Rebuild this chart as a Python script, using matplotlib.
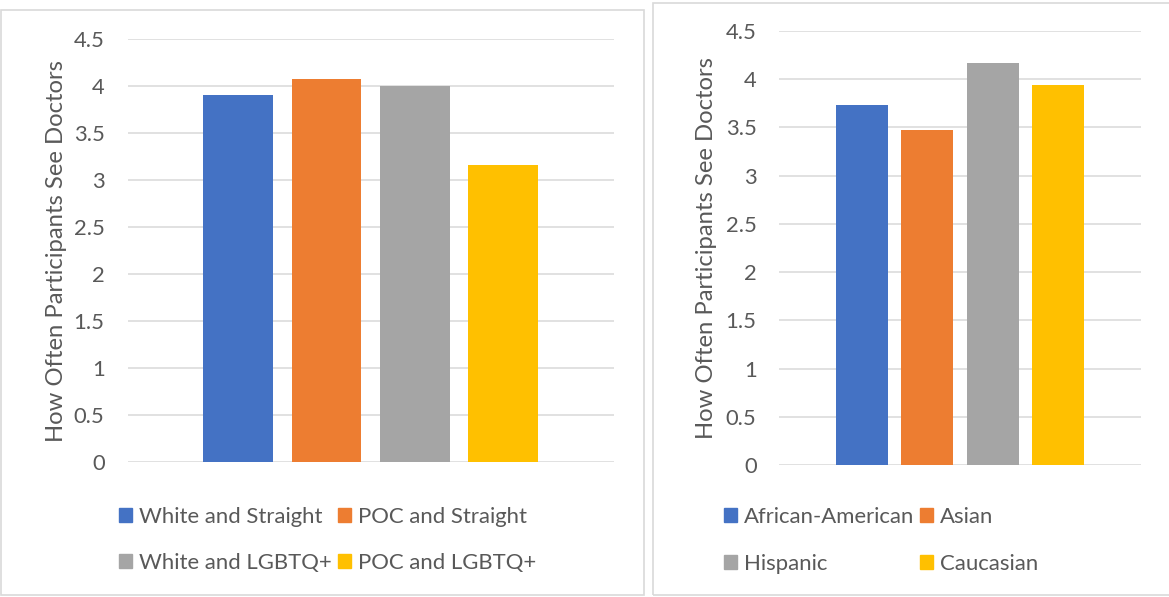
import numpy as np
import matplotlib.pyplot as plt
from matplotlib.patches import Rectangle, Patch

# mean "how often participants see doctors" score per group
combo_groups = ["White and Straight", "POC and Straight", "White and LGBTQ+", "POC and LGBTQ+"]
combo_scores = [3.91, 4.08, 4.00, 3.16]

race_groups = ["African-American", "Asian", "Hispanic", "Caucasian"]
race_scores = [3.73, 3.47, 4.17, 3.94]

yticks = [0, 0.5, 1, 1.5, 2, 2.5, 3, 3.5, 4, 4.5]
colors = ["#4472C4", "#ED7D31", "#A5A5A5", "#FFC000"]

W, H = 1169, 597
text_color = "#595959"
grid_color = "#D9D9D9"


def px(x, y):
	# pixel coords (from top-left) -> figure fraction
	return x / W, 1 - y / H


def bar_panel(fig, rect, groups, scores, label_x, legend_x, legend_y):
	ax = fig.add_axes(rect)
	x = np.arange(len(groups))
	ax.bar(x, scores, width=0.79, color=colors, zorder=2)
	ax.set_xlim(-1.256, 4.26)
	ax.set_ylim(0, 4.5)
	ax.set_yticks(yticks)
	ax.set_yticklabels(["%g" % t for t in yticks])
	ax.set_xticks([])
	ax.yaxis.grid(True, color=grid_color, linewidth=1.1)
	ax.set_axisbelow(True)
	for s in ax.spines.values():
		s.set_visible(False)
	ax.tick_params(axis="y", length=0, pad=16.5, labelsize=15.8, labelcolor=text_color)
	ax.set_ylabel("How Often Participants See Doctors", fontsize=17.2, color=text_color)
	ax.yaxis.set_label_coords(label_x, 0.5)

	# legend laid out as two fixed columns, row by row
	handles = [Patch(color=c) for c in colors]
	opts = dict(loc="center left", frameon=False, fontsize=15.9, labelcolor=text_color,
		handlelength=0.6, handleheight=0.6, handletextpad=0.3, labelspacing=1.2,
		borderpad=0, borderaxespad=0, bbox_transform=fig.transFigure)
	leg1 = ax.legend([handles[0], handles[2]], [groups[0], groups[2]],
		bbox_to_anchor=px(legend_x[0], legend_y), **opts)
	ax.add_artist(leg1)
	ax.legend([handles[1], handles[3]], [groups[1], groups[3]],
		bbox_to_anchor=px(legend_x[1], legend_y), **opts)
	return ax


def main():
	plt.rcParams["font.family"] = ["Lato", "DejaVu Sans"]
	fig = plt.figure(figsize=(W / 100, H / 100), dpi=100)

	# chart area borders
	fig.patches.append(Rectangle(px(1, 595), 643 / W, 585 / H, transform=fig.transFigure,
		fill=False, edgecolor=grid_color, linewidth=1.2))
	fig.patches.append(Rectangle(px(653, 595), 520 / W, 592 / H, transform=fig.transFigure,
		fill=False, edgecolor=grid_color, linewidth=1.2))

	bar_panel(fig, [0.1091, 0.2261, 0.4162, 0.7081], combo_groups, combo_scores,
		-0.1245, (119, 338), 540)
	bar_panel(fig, [0.6668, 0.2211, 0.3092, 0.7270], race_groups, race_scores,
		-0.1727, (724, 920), 540.5)

	fig.savefig("out.png", dpi=100)


if __name__ == '__main__':
	main()
